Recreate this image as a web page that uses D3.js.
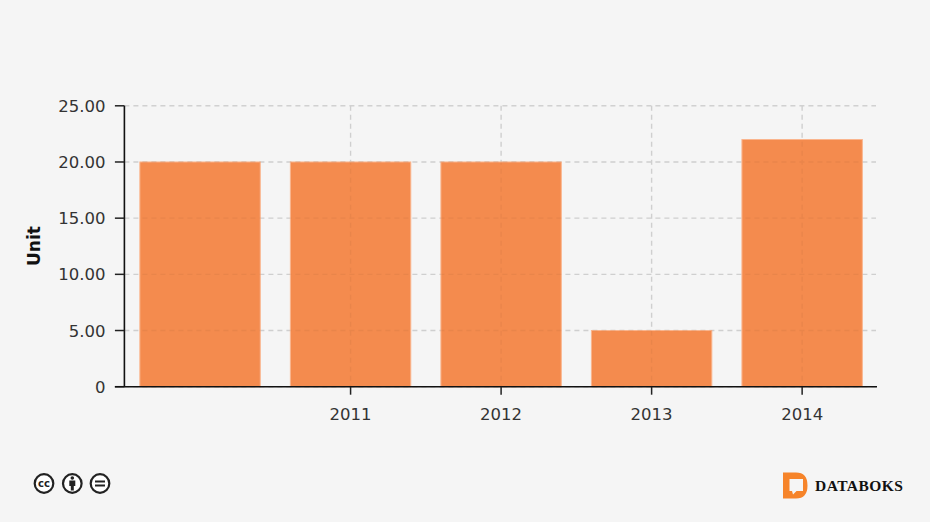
<!DOCTYPE html>
<html><head><meta charset="utf-8">
<script src="https://cdn.jsdelivr.net/npm/d3@7/dist/d3.min.js"></script>
<style>
html,body{margin:0;padding:0;background:#f5f5f5;overflow:hidden}
svg{display:block}
text{font-family:"DejaVu Sans",sans-serif}
</style></head><body>
<svg id="c" width="930" height="522"></svg>
<script>
const categories = ["", "2011", "2012", "2013", "2014"];
const values = [20, 20, 20, 5, 22];
const yTicks = [0, 5, 10, 15, 20, 25];
const yLabel = "Unit";
const brand = "DATABOKS";

const svg = d3.select("#c");
const pLeft = 124.4, pRight = 877, pTop = 105.8, pBottom = 386.7;
const x = d3.scaleBand().domain(categories).range([pLeft+.4, pRight+.4]).paddingInner(0.2).paddingOuter(0.1);
const xc = d3.scalePoint().domain(categories).range([pLeft+.4, pRight+.4]).padding(0.5);
const y = d3.scaleLinear().domain([0, 25]).range([pBottom, pTop]);

// grid
function drawGrid(g, color, width){
  g.selectAll(".h").data(yTicks).join("line").attr("class","h")
    .attr("x1",pLeft).attr("x2",pRight-1).attr("y1",d=>y(d)).attr("y2",d=>y(d))
    .attr("stroke",color).attr("stroke-width",width).attr("stroke-dasharray","5 4");
  g.selectAll(".v").data(categories.filter(c=>c)).join("line").attr("class","v")
    .attr("x1",d=>xc(d)).attr("x2",d=>xc(d)).attr("y1",pTop).attr("y2",pBottom)
    .attr("stroke",color).attr("stroke-width",width).attr("stroke-dasharray","5 4");
}
drawGrid(svg.append("g"), "#d9d9d9", 1.4);

// bars
svg.append("g").selectAll("rect").data(values).join("rect")
  .attr("x",(d,i)=>x(categories[i])).attr("width",x.bandwidth())
  .attr("y",d=>y(d)).attr("height",d=>pBottom-y(d))
  .attr("fill","#f48b4e").attr("stroke","#fab58e").attr("stroke-width",1);
drawGrid(svg.append("g").attr("opacity",.04), "#000", 1.3);

// y axis
const yAxis = d3.axisLeft(y).offset(0).tickValues(yTicks).tickSize(9.5).tickPadding(9.5)
  .tickFormat(d=>d===0?"0":d3.format(".2f")(d));
const ga = svg.append("g").attr("transform",`translate(${pLeft},0)`).call(yAxis);
ga.select(".domain").attr("stroke","#111").attr("stroke-width",1.6).attr("d",`M0,${pTop}V${pBottom}`);
ga.selectAll("line").attr("stroke","#222").attr("stroke-width",1.5);
ga.selectAll("text").attr("fill","#333").attr("font-size",16.5).attr("dy","0.37em").style("font-family","DejaVu Sans");

// x axis
const xAxis = d3.axisBottom(xc).offset(0).tickValues(categories.filter(c=>c)).tickSize(8).tickPadding(14);
const gx = svg.append("g").attr("transform",`translate(0,${pBottom})`).call(xAxis);
gx.select(".domain").attr("stroke","#111").attr("stroke-width",1.6).attr("d",`M${pLeft-9.5},0H${pRight}`);
gx.selectAll("line").attr("stroke","#222").attr("stroke-width",1.5);
gx.selectAll("text").attr("fill","#333").attr("font-size",16.5).style("font-family","DejaVu Sans");

svg.append("text").attr("transform","translate(40,246) rotate(-90)").attr("text-anchor","middle")
  .attr("font-size",17).attr("font-weight","bold").attr("fill","#111").text(yLabel);

// cc icons
const ic = svg.append("g");
[44,72.3,100].forEach(cx=>ic.append("circle").attr("cx",cx).attr("cy",483.5).attr("r",9.3).attr("fill","#fff").attr("stroke","#222").attr("stroke-width",2.2));
ic.append("text").attr("x",44).attr("y",487).attr("text-anchor","middle").attr("font-size",10).attr("font-weight","bold").attr("fill","#222").text("cc");
ic.append("circle").attr("cx",72.3).attr("cy",478).attr("r",1.8).attr("fill","#222");
ic.append("path").attr("d","M69.3,480.5H75.3V486H73.8V490.5H70.8V486H69.3Z").attr("fill","#222");
ic.append("path").attr("d","M95,480.5H105V482.5H95ZM95,484.5H105V486.5H95Z").attr("fill","#222");

// logo
svg.append("path").attr("fill-rule","evenodd").attr("fill","#f6842a")
  .attr("d","M783,472.5H796Q807.5,472.5 807.5,485.5Q807.5,498.5 796,498.5H783ZM789.5,479V491H792L793,494.5L796.5,491H803V479Z");
svg.append("text").attr("x",815).attr("y",491).attr("font-size",15.5).attr("font-weight","bold")
  .style("font-family","Liberation Serif").attr("fill","#111").attr("letter-spacing",".45").text(brand);
</script></body></html>
